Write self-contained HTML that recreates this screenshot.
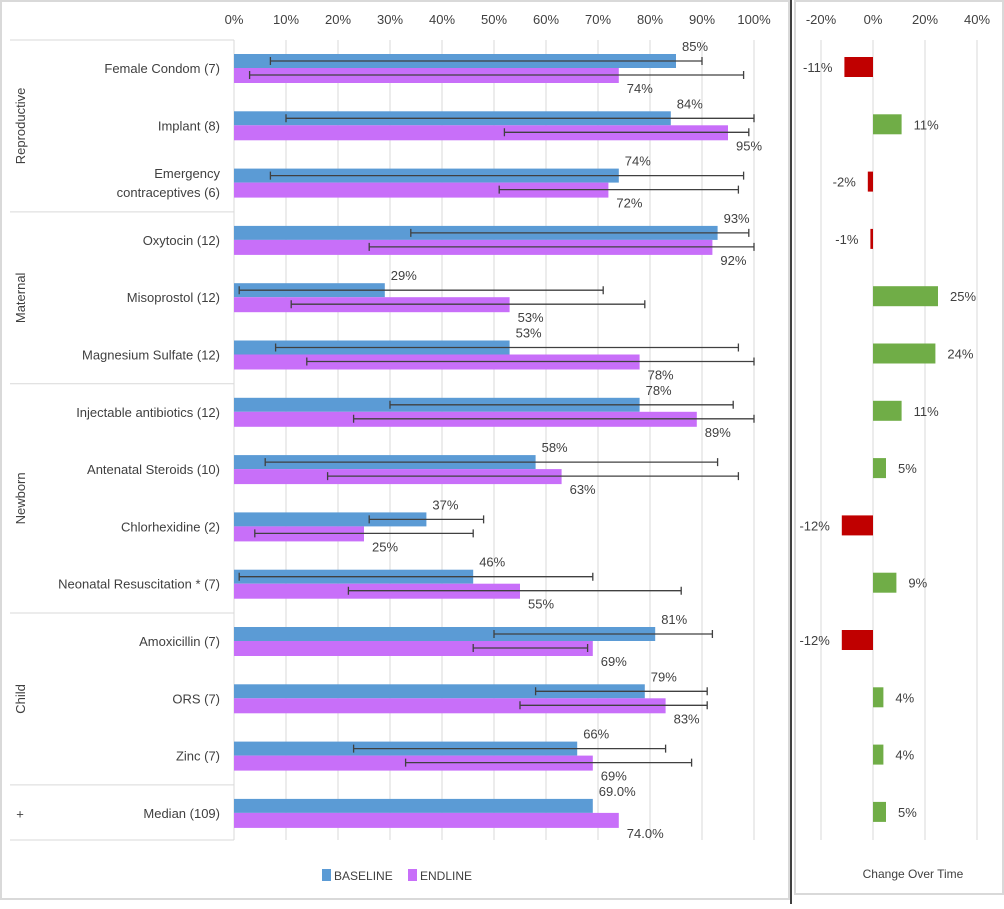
<!DOCTYPE html>
<html><head><meta charset="utf-8"><style>
body{margin:0;background:#fff;font-family:"Liberation Sans",sans-serif;}
svg text{font-family:"Liberation Sans",sans-serif;fill:#404040;}
</style></head><body>
<svg id="c" width="1004" height="904" viewBox="0 0 1004 904">
<rect x="1" y="1" width="788" height="898" fill="#fff" stroke="#d9d9d9" stroke-width="2"/>
<rect x="795" y="1" width="208" height="893" fill="#fff" stroke="#d9d9d9" stroke-width="2"/>
<line x1="791" y1="0" x2="791" y2="904" stroke="#000" stroke-width="1.5"/>
<g id="g"></g>
</svg>
<script>
const categories=["Female Condom (7)","Implant (8)","Emergency|contraceptives (6)","Oxytocin (12)","Misoprostol (12)","Magnesium Sulfate (12)","Injectable antibiotics (12)","Antenatal Steroids (10)","Chlorhexidine (2)","Neonatal Resuscitation * (7)","Amoxicillin (7)","ORS (7)","Zinc (7)","Median (109)"];
const baseline=[85,84,74,93,29,53,78,58,37,46,81,79,66,69];
const endline=[74,95,72,92,53,78,89,63,25,55,69,83,69,74];
const baseLabels=["85%","84%","74%","93%","29%","53%","78%","58%","37%","46%","81%","79%","66%","69.0%"];
const endLabels=["74%","95%","72%","92%","53%","78%","89%","63%","25%","55%","69%","83%","69%","74.0%"];
const baseLo=[7,10,7,34,1,8,30,6,26,1,50,58,23,null];
const baseHi=[90,100,98,99,71,97,96,93,48,69,92,91,83,null];
const endLo=[3,52,51,26,11,14,23,18,4,22,46,55,33,null];
const endHi=[98,99,97,100,79,100,100,97,46,86,68,91,88,null];
const change=[-11,11,-2,-1,25,24,11,5,-12,9,-12,4,4,5];
const xTicks=[0,10,20,30,40,50,60,70,80,90,100];
const cTicks=[-20,0,20,40];
const groups=[["Reproductive",0,3],["Maternal",3,6],["Newborn",6,10],["Child",10,13],["+",13,14]];

const NS="http://www.w3.org/2000/svg";
const g=document.getElementById('g');
function mk(t,a,txt){const e=document.createElementNS(NS,t);for(const k in a)e.setAttribute(k,a[k]);if(txt!==undefined)e.textContent=txt;g.appendChild(e);return e;}
const x=v=>234+v*5.2;
const cx=v=>873+v*2.6;
const topY=40,step=57.3;
const yc=i=>topY+28+i*step;

xTicks.forEach(t=>{
 const l=mk('line',{x1:x(t),y1:topY,x2:x(t),y2:840,stroke:'#d9d9d9','stroke-width':1});
 
 
 const tx=mk('text',{x:x(t),y:24,'text-anchor':'middle','font-size':13},t+'%');
 
 
});
cTicks.forEach(t=>{
 const l=mk('line',{x1:cx(t),y1:topY,x2:cx(t),y2:840,stroke:'#d9d9d9','stroke-width':1});
 
 
 const tx=mk('text',{x:cx(t),y:24,'text-anchor':'middle','font-size':13},t+'%');
 
 
});
const al=mk('line',{x1:234,y1:topY,x2:234,y2:840,stroke:'#d9d9d9'});


groups.forEach(gr=>{
 const y0=topY+gr[1]*step, y1=topY+gr[2]*step;
 const l=mk('line',{x1:10,y1:y0,x2:234,y2:y0,stroke:'#d9d9d9'});
 
 
 const m=(y0+y1)/2;
 const t=gr[0]==='+'?mk('text',{x:20,y:m+5,'text-anchor':'middle','font-size':13},gr[0]):mk('text',{x:25,y:m,'text-anchor':'middle','font-size':13,transform:`rotate(-90 25 ${m})`},gr[0]);
 
 
});
const bl=mk('line',{x1:10,y1:840,x2:234,y2:840,stroke:'#d9d9d9'});



function err(lo,hi,y){
 if(lo===null)return;
 const e=mk('path',{d:`M${x(lo)},${y}H${x(hi)}M${x(lo)},${y-4}V${y+4}M${x(hi)},${y-4}V${y+4}`,stroke:'#404040','stroke-width':1.3,fill:'none'});
 
 
}
categories.forEach((c,i)=>{
 const y=yc(i);
 const parts=c.split('|');
 parts.forEach((p,k)=>{
  const t=mk('text',{x:220,y:y+5+(k-(parts.length-1)/2)*19,'text-anchor':'end','font-size':13},p);
  
  
 });
 const b=mk('rect',{x:234,y:y-14,width:x(baseline[i])-234,height:14,fill:'#5b9bd5'});
 
 
 const e=mk('rect',{x:234,y:y,width:x(endline[i])-234,height:15,fill:'#c86ff9'});
 
 
 err(baseLo[i],baseHi[i],y-7);
 err(endLo[i],endHi[i],y+7);
 const lb=mk('text',{x:x(baseline[i])+6,y:y-17,'font-size':13},baseLabels[i]);
 
 
 const le=mk('text',{x:x(endline[i])+8,y:y+25,'font-size':13},endLabels[i]);
 
 
 const v=change[i];
 const r=mk('rect',{x:Math.min(cx(0),cx(v)),y:y-11,width:Math.abs(cx(v)-cx(0)),height:20,fill:v<0?'#c00000':'#70ad47'});
 
 
 const lt=v<0?mk('text',{x:cx(v)-12,y:y+4,'text-anchor':'end','font-size':13},v+'%'):mk('text',{x:cx(v)+12,y:y+4,'font-size':13},v+'%');
 
 
});
const lr1=mk('rect',{x:322,y:869,width:9,height:12,fill:'#5b9bd5'});


const lt1=mk('text',{x:334,y:880,'font-size':12},'BASELINE');


const lr2=mk('rect',{x:408,y:869,width:9,height:12,fill:'#c86ff9'});


const lt2=mk('text',{x:420,y:880,'font-size':12},'ENDLINE');


const ct=mk('text',{x:913,y:878,'text-anchor':'middle','font-size':12},'Change Over Time');


</script>
</body></html>
